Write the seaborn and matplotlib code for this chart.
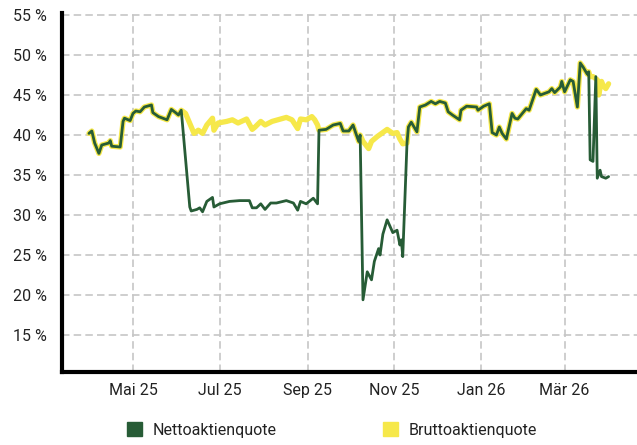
import pandas as pd
import numpy as np
import seaborn as sns
import matplotlib.pyplot as plt
from matplotlib.patches import Patch

# values in %
# stretches where Netto and Brutto lie on top of each other
both_dates = [
    "2025-03-31", "2025-04-02", "2025-04-04", "2025-04-07", "2025-04-09", "2025-04-14",
    "2025-04-15", "2025-04-16", "2025-04-22", "2025-04-24", "2025-04-25", "2025-04-29",
    "2025-05-01", "2025-05-03", "2025-05-06", "2025-05-09", "2025-05-14", "2025-05-15",
    "2025-05-19", "2025-05-25", "2025-05-28", "2025-05-31", "2025-06-02", "2025-06-04",
    "2025-09-09", "2025-09-14", "2025-09-19", "2025-09-24", "2025-09-26", "2025-09-30",
    "2025-10-03", "2025-10-05", "2025-10-07", "2025-10-08",
    "2025-11-11", "2025-11-13", "2025-11-17", "2025-11-19", "2025-11-23", "2025-11-27",
    "2025-11-30", "2025-12-03", "2025-12-07", "2025-12-09", "2025-12-12", "2025-12-17",
    "2025-12-18", "2025-12-22", "2025-12-29", "2025-12-30", "2026-01-03", "2026-01-07",
    "2026-01-09", "2026-01-12", "2026-01-14", "2026-01-16", "2026-01-19", "2026-01-23",
    "2026-01-25", "2026-01-27", "2026-02-02", "2026-02-04", "2026-02-09", "2026-02-12",
    "2026-02-18", "2026-02-20", "2026-02-22", "2026-02-26", "2026-02-27", "2026-03-01",
    "2026-03-05", "2026-03-07", "2026-03-10", "2026-03-12", "2026-03-14", "2026-03-17",
    "2026-03-18",
]
both_values = [
    40.2, 40.5, 39.0, 37.7, 38.75, 39.0,
    39.3, 38.6, 38.5, 41.7, 42.1, 41.8,
    42.7, 43.0, 42.9, 43.5, 43.75, 42.8,
    42.3, 41.9, 43.2, 42.8, 42.5, 43.1,
    40.6, 40.7, 41.25, 41.45, 40.5, 40.5,
    41.25, 40.2, 39.2, 40.0,
    41.0, 41.6, 40.4, 43.5, 43.75, 44.2,
    43.9, 44.2, 44.0, 42.9, 42.5, 41.9,
    43.1, 43.6, 43.5, 43.1, 43.6, 43.9,
    40.3, 40.0, 41.0, 40.2, 39.5, 42.7,
    42.1, 42.0, 43.3, 43.1, 45.7, 45.0,
    45.4, 45.8, 45.3, 46.0, 46.7, 45.4,
    46.9, 46.7, 43.5, 49.0, 48.5, 47.6,
    47.9,
]

# Nettoaktienquote only
net_dates = [
    "2025-06-10", "2025-06-11", "2025-06-15", "2025-06-17", "2025-06-19", "2025-06-22",
    "2025-06-26", "2025-06-27", "2025-07-01", "2025-07-08", "2025-07-15", "2025-07-22",
    "2025-07-24", "2025-07-27", "2025-07-30", "2025-08-02", "2025-08-06", "2025-08-10",
    "2025-08-17", "2025-08-22", "2025-08-25", "2025-08-27", "2025-08-31", "2025-09-05",
    "2025-09-08",
    "2025-10-10", "2025-10-13", "2025-10-16", "2025-10-18", "2025-10-21", "2025-10-22",
    "2025-10-24", "2025-10-27", "2025-10-31", "2025-11-03", "2025-11-05", "2025-11-06",
    "2025-11-07", "2025-11-10",
    "2026-03-19", "2026-03-21", "2026-03-23", "2026-03-24", "2026-03-26", "2026-03-27",
    "2026-03-30", "2026-04-01",
]
net_values = [
    31.0, 30.5, 30.7, 30.9, 30.4, 31.7,
    32.2, 31.0, 31.4, 31.7, 31.8, 31.8,
    30.9, 30.9, 31.4, 30.7, 31.5, 31.5,
    31.8, 31.5, 30.6, 31.7, 31.4, 32.1,
    31.4,
    19.4, 22.9, 21.9, 24.2, 25.8, 25.0,
    27.6, 29.4, 27.8, 28.1, 26.25, 26.9,
    24.8, 39.0,
    36.9, 36.7, 47.3, 34.6, 35.6, 34.8,
    34.6, 34.8,
]

# Bruttoaktienquote only
gross_dates = [
    "2025-06-07", "2025-06-13", "2025-06-16", "2025-06-19", "2025-06-22", "2025-06-26",
    "2025-06-27", "2025-06-30", "2025-07-06", "2025-07-10", "2025-07-14", "2025-07-20",
    "2025-07-24", "2025-07-26", "2025-07-30", "2025-08-02", "2025-08-07", "2025-08-13",
    "2025-08-17", "2025-08-21", "2025-08-25", "2025-08-27", "2025-08-31", "2025-09-04",
    "2025-09-06", "2025-09-08",
    "2025-10-10", "2025-10-14", "2025-10-16", "2025-10-20", "2025-10-27", "2025-10-31",
    "2025-11-03", "2025-11-05", "2025-11-07", "2025-11-10",
    "2026-03-19", "2026-03-21", "2026-03-24", "2026-03-25", "2026-03-27", "2026-03-28",
    "2026-03-30", "2026-04-01",
]
gross_values = [
    42.7, 40.2, 40.6, 40.2, 41.25, 42.1,
    40.6, 41.5, 41.7, 41.9, 41.5, 42.0,
    40.7, 41.0, 41.7, 41.25, 41.7, 42.0,
    42.2, 41.9, 40.8, 42.0, 41.9, 42.3,
    41.9, 41.25,
    39.2, 38.3, 39.2, 39.8, 40.7, 40.2,
    40.3, 39.5, 38.9, 39.0,
    47.3, 47.3, 46.9, 45.0, 46.7, 46.25,
    45.8, 46.4,
]

x_tick_dates = ["2025-05-01", "2025-07-01", "2025-09-01", "2025-11-01", "2026-01-01", "2026-03-01"]
x_tick_labels = ["Mai 25", "Jul 25", "Sep 25", "Nov 25", "Jan 26", "Mär 26"]
y_ticks = [15, 20, 25, 30, 35, 40, 45, 50, 55]

series_labels = ["Nettoaktienquote", "Bruttoaktienquote"]
green = "#275c36"
yellow = "#f6e84a"

both = pd.DataFrame({"date": pd.to_datetime(both_dates), "value": both_values})
net = pd.concat([both, pd.DataFrame({"date": pd.to_datetime(net_dates), "value": net_values})])
net = net.sort_values("date")
gross = pd.concat([both, pd.DataFrame({"date": pd.to_datetime(gross_dates), "value": gross_values})])
gross = gross.sort_values("date")

sns.set_style("white")
plt.rcParams['font.family'] = ['Roboto', 'DejaVu Sans']

fig = plt.figure(figsize=(6.37, 4.45), dpi=100)
ax = fig.add_axes([62 / 637, 72.7 / 445, 575 / 637, 359.3 / 445])

sns.lineplot(data=gross, x="date", y="value", color=yellow, linewidth=3.8, ax=ax)
sns.lineplot(data=net, x="date", y="value", color=green, linewidth=2.0, ax=ax)

ax.set_xlim(pd.Timestamp("2025-03-12"), pd.Timestamp("2026-04-21"))
ax.set_ylim(10.34, 55.25)
ax.set_yticks(y_ticks)
ax.set_yticklabels([f"{v} %" for v in y_ticks])
ax.set_xticks(pd.to_datetime(x_tick_dates))
ax.set_xticklabels(x_tick_labels)
ax.set_xlabel("")
ax.set_ylabel("")

ax.grid(True, color="#c6c6c6", linestyle=(0, (4.5, 2.5)), linewidth=1.2)
ax.set_axisbelow(True)
for side in ["top", "right"]:
    ax.spines[side].set_visible(False)
for side in ["left", "bottom"]:
    ax.spines[side].set_color("black")
    ax.spines[side].set_linewidth(3)
ax.tick_params(axis="y", length=0, pad=11, labelsize=11.5, labelcolor="#222222")
ax.tick_params(axis="x", length=0, pad=8, labelsize=11.5, labelcolor="#222222")

handles = [Patch(color=green, label=series_labels[0]), Patch(color=yellow, label=series_labels[1])]
fig.legend(handles=handles, loc="center left", bbox_to_anchor=(113 / 637, 15 / 445), ncol=2,
           frameon=False, fontsize=11.5, handlelength=0.94, handleheight=0.94,
           handletextpad=0.63, columnspacing=6.7, labelcolor="#222222")

fig.savefig("out.png", dpi=100)
